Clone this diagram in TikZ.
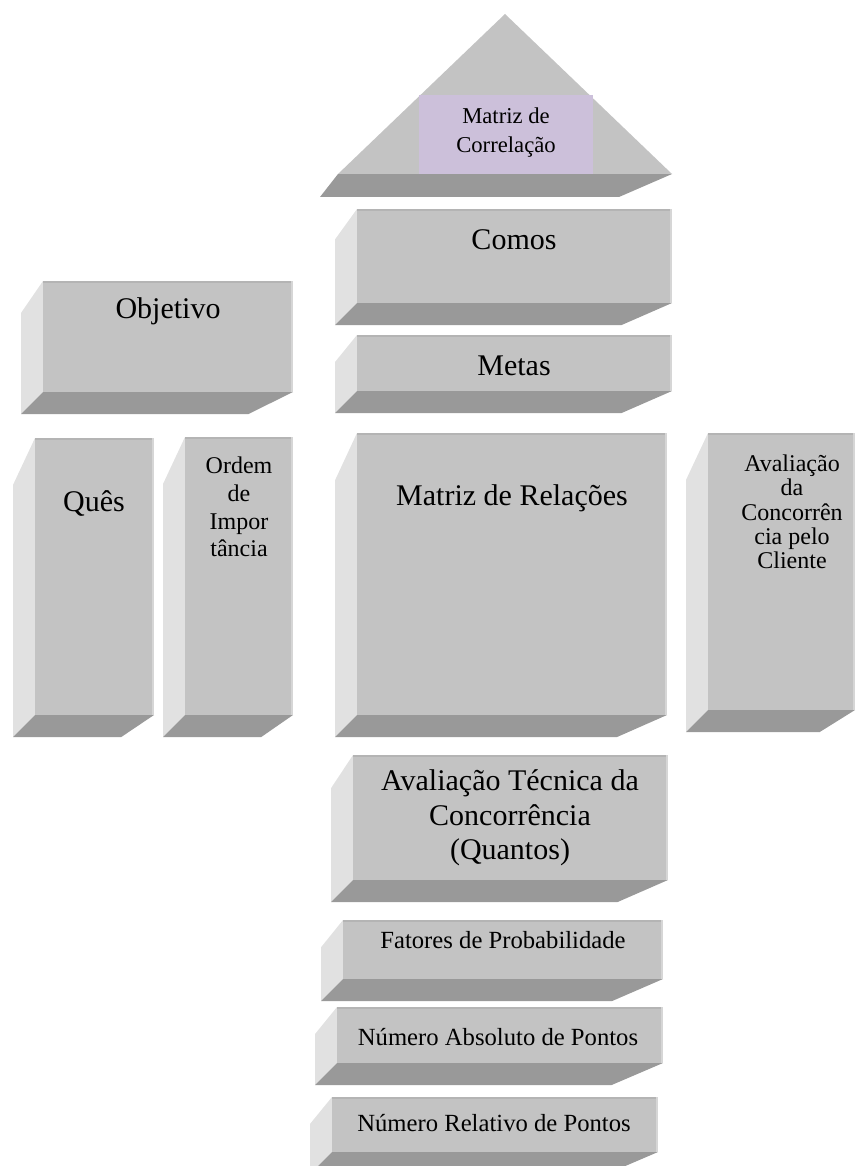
\documentclass[tikz,border=0pt]{standalone}
\usepackage{fontspec}
\setmainfont{Liberation Serif}
\definecolor{frontc}{RGB}{195,195,195}
\definecolor{sidec}{RGB}{225,225,225}
\definecolor{botc}{RGB}{153,153,153}
\definecolor{topedge}{RGB}{180,180,180}
\definecolor{rightedge}{RGB}{214,214,214}
\definecolor{lilac}{RGB}{204,192,218}
\newcommand\bevbox[4]{%
  \pgfmathsetmacro\bvX{#1-22}%
  \pgfmathsetmacro\bvY{#4+22}%
  \pgfmathsetmacro\bvT{#4+22+0.91*(#2-#4)}%
  \pgfmathsetmacro\bvR{#1-22+0.91*(#3-#1)}%
  \fill[sidec] (#1,#2) -- (\bvX,\bvT) -- (\bvX,\bvY) -- (#1,#4) -- cycle;
  \fill[botc] (#1,#4) -- (#3,#4) -- (\bvR,\bvY) -- (\bvX,\bvY) -- cycle;
  \fill[frontc] (#1,#2) rectangle (#3,#4);
  \fill[topedge] (#1,#2) rectangle (#3,#2+2);
  \fill[rightedge] (#3-2,#2) rectangle (#3,#4);
}
\begin{document}
\begin{tikzpicture}[x=0.75pt,y=-0.75pt,
  big/.style={font=\fontsize{22.5}{26}\selectfont,align=center,inner sep=0pt},
  small/.style={font=\fontsize{18.5}{21}\selectfont,align=center,inner sep=0pt}]
\useasboundingbox (0,0) rectangle (861,1166);
% roof
\fill[botc] (338,174) -- (672,174) -- (619,197) -- (320,197) -- cycle;
\fill[frontc] (505,14) -- (672,174) -- (338,174) -- cycle;
\fill[lilac] (419,95) rectangle (593,174);
\node[inner sep=0pt,align=center,font=\fontsize{17}{21.5}\selectfont] (correl) at (506,132.5) {Matriz de\\Correlação};
% boxes
\bevbox{357}{209}{672}{303}
\node[big] (comos) at (514,240) {Comos};
\bevbox{43}{281}{293}{392}
\node[big] (objetivo) at (168,311) {Objetivo};
\bevbox{357}{335}{672}{391}
\node[big] (metas) at (514,366) {Metas};
\bevbox{35}{438}{154}{715}
\node[big] (ques) at (94,503) {Quês};
\bevbox{185}{437}{293}{715}
\node[inner sep=0pt,align=center,font=\fontsize{18}{20.8}\selectfont] (ordem) at (239,507) {Ordem\\de\\Impor\\tância};
\bevbox{357}{433}{667}{715}
\node[big] (relacoes) at (512,498) {Matriz de Relações};
\bevbox{708}{433}{855}{710}
\node[inner sep=0pt,align=center,font=\fontsize{18}{18.2}\selectfont] (cliente) at (792,512) {Avaliação\\da\\Concorrên\\cia pelo\\Cliente};
\bevbox{353}{755}{668}{880}
\node[inner sep=0pt,align=center,font=\fontsize{22.5}{25.9}\selectfont] (quantos) at (510,818) {Avaliação Técnica da\\Concorrência\\(Quantos)};
\bevbox{343}{920}{663}{979}
\node[small] (fatores) at (503,940) {Fatores de Probabilidade};
\bevbox{337}{1007}{663}{1063}
\node[small] (absoluto) at (498,1037) {Número Absoluto de Pontos};
\bevbox{332}{1097}{658}{1152}
\node[small] (relativo) at (494,1123) {Número Relativo de Pontos};
\end{tikzpicture}
\end{document}
